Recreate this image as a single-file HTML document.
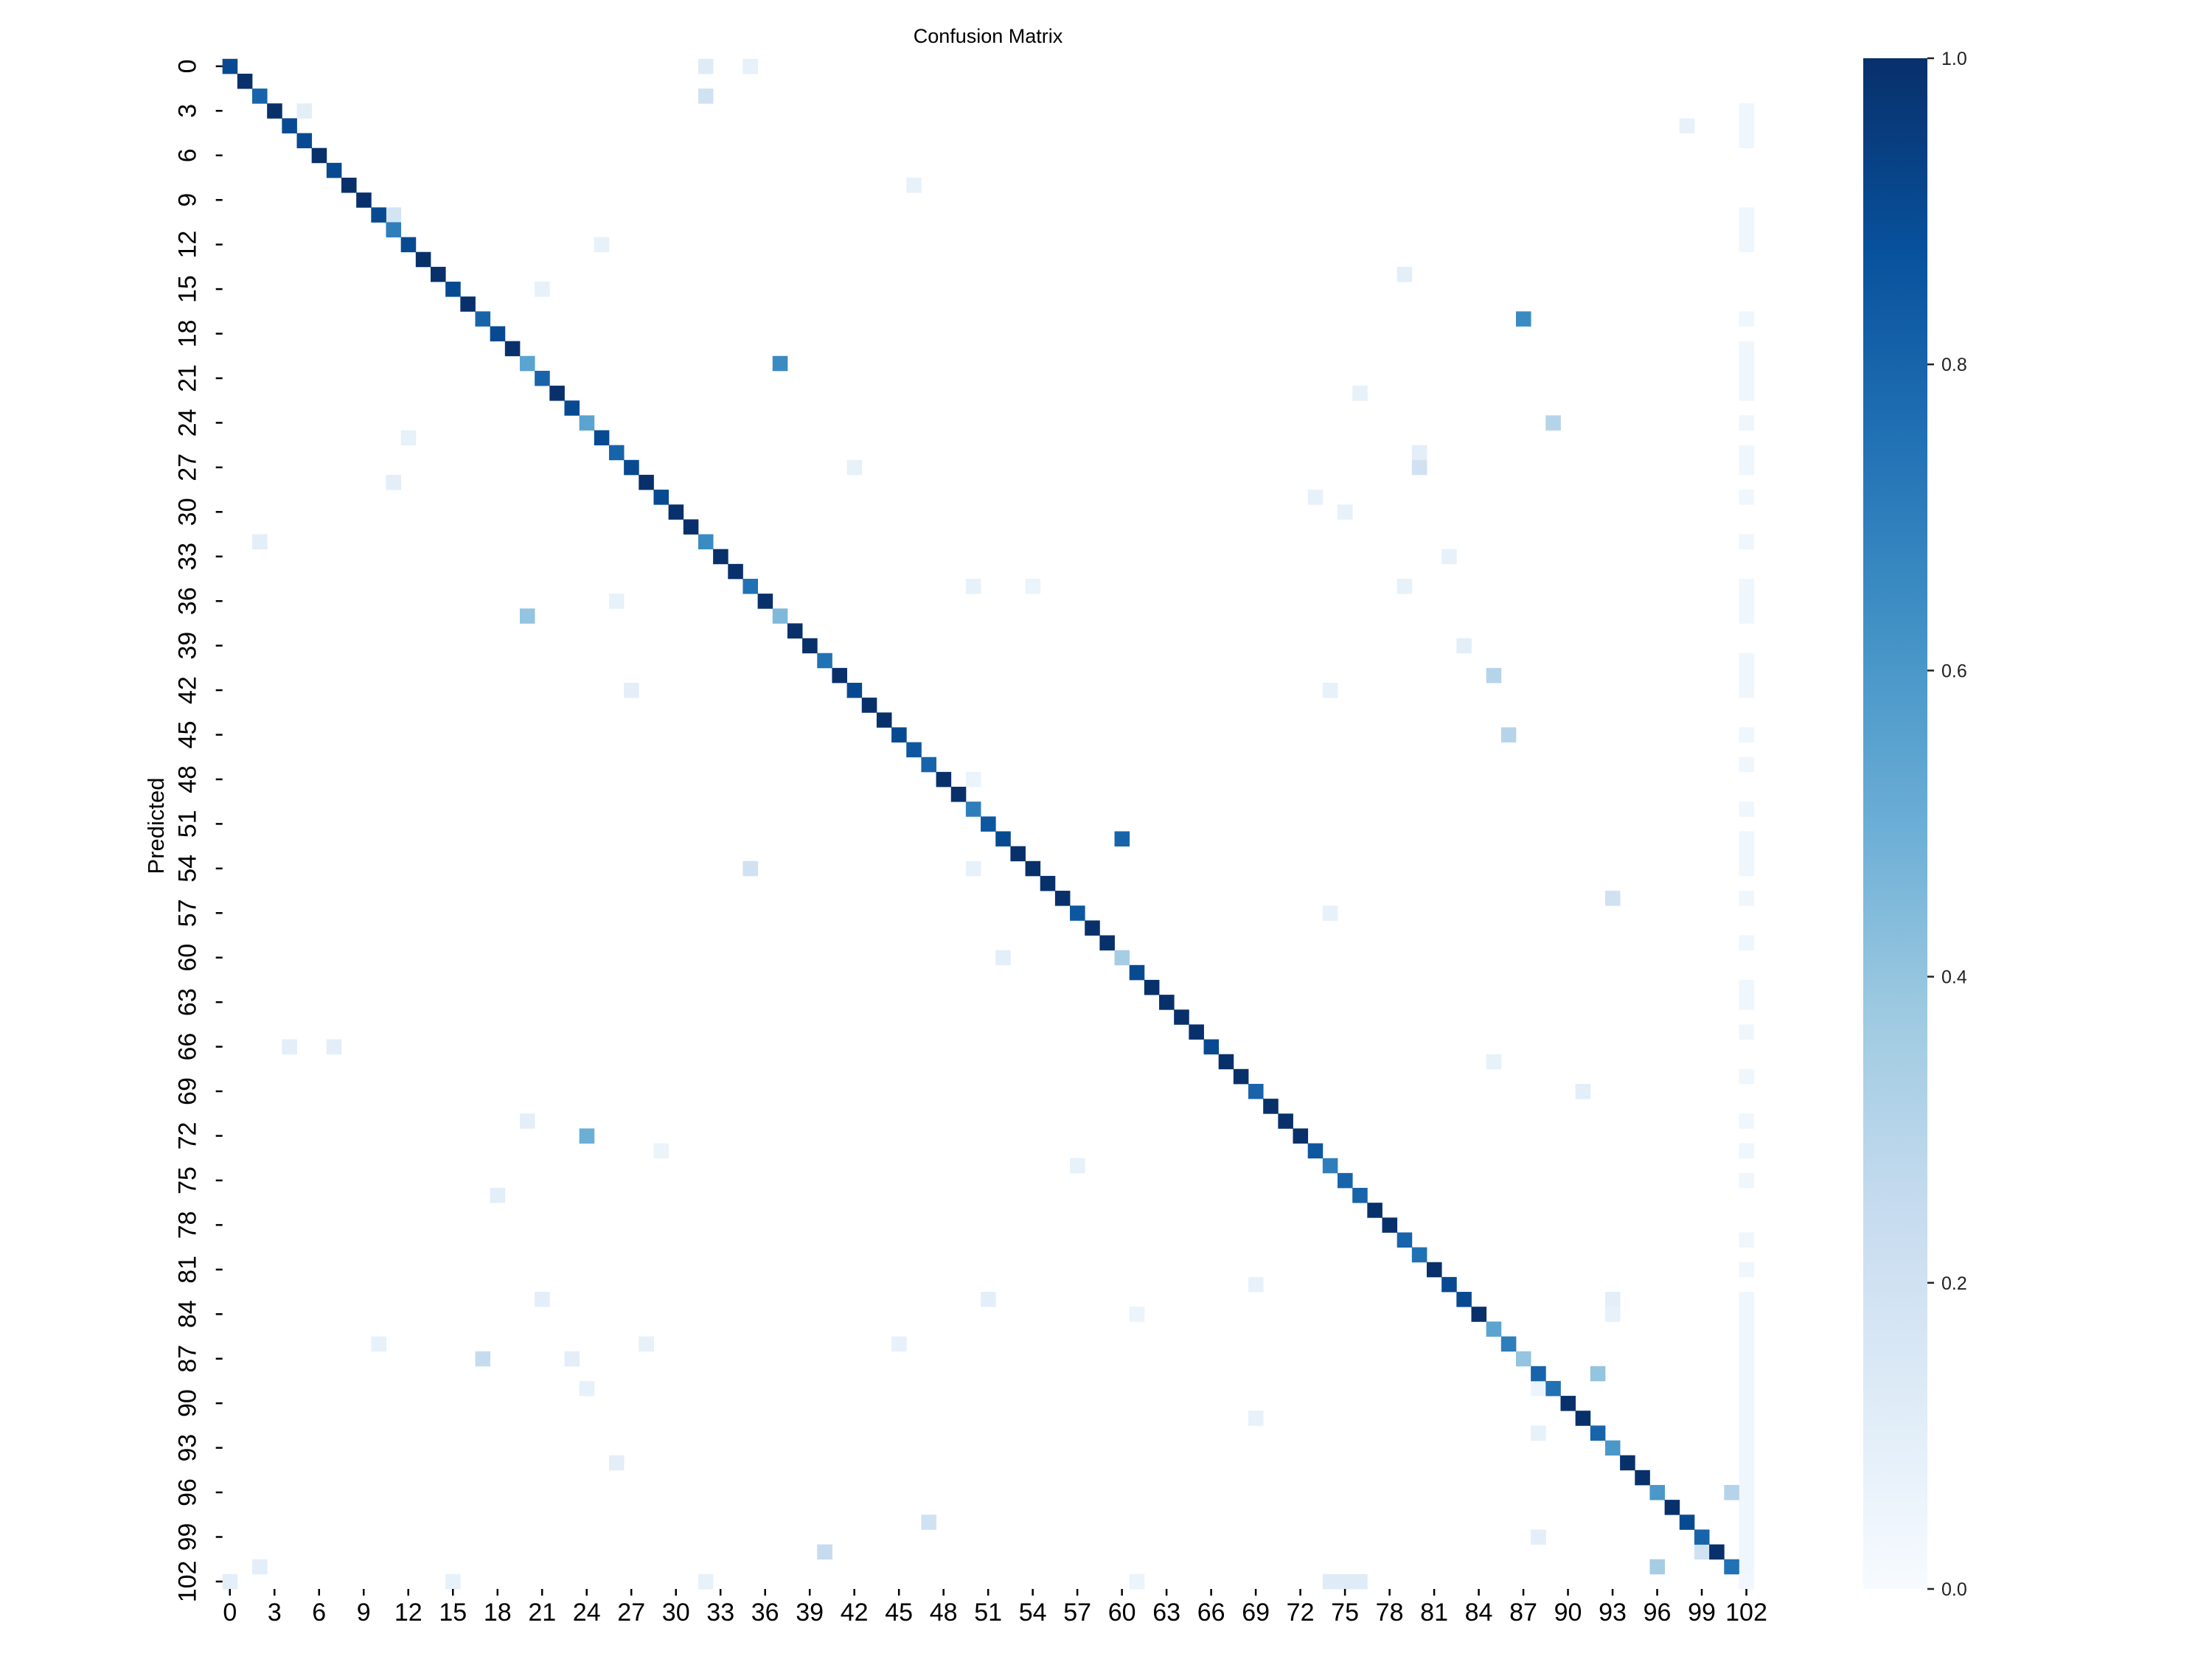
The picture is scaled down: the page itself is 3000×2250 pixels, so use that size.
<!DOCTYPE html>
<html><head><meta charset="utf-8"><style>
html,body{margin:0;padding:0;background:#fff;}
svg{display:block;font-family:"Liberation Sans",Arial,sans-serif;}
</style></head><body>
<svg id="chart" xmlns="http://www.w3.org/2000/svg" width="3000" height="2250" viewBox="0 0 3000 2250">
<defs>
<linearGradient id="blues" x1="0" y1="1" x2="0" y2="0">
<stop offset="0" stop-color="#f7fbff"/><stop offset="0.125" stop-color="#deebf7"/><stop offset="0.25" stop-color="#c6dbef"/><stop offset="0.375" stop-color="#9ecae1"/><stop offset="0.5" stop-color="#6baed6"/><stop offset="0.625" stop-color="#4292c6"/><stop offset="0.75" stop-color="#2171b5"/><stop offset="0.875" stop-color="#08519c"/><stop offset="1" stop-color="#08306b"/>
</linearGradient>
</defs>
<text x="1340" y="58" font-size="27" text-anchor="middle" fill="#000">Confusion Matrix</text>
<text transform="translate(222,1120) rotate(-90)" font-size="31" text-anchor="middle" fill="#000">Predicted</text>
<g id="cells"></g>
<g id="axes"></g>
<rect x="2527" y="79" width="87" height="2076" fill="url(#blues)"/>
<g id="cbar"></g>
</svg>
<script>
const N = 103;
const diagValues = [0.9,1,0.8,1,0.9,0.9,1,0.9,1,1,0.9,0.7,0.9,1,1,0.9,1,0.8,0.9,1,0.55,0.8,1,0.9,0.55,0.9,0.8,0.9,1,0.9,1,1,0.65,1,1,0.75,1,0.45,1,1,0.75,1,0.9,1,1,0.9,0.85,0.8,1,1,0.7,0.85,0.9,1,1,1,1,0.85,1,1,0.35,0.9,1,1,1,1,0.9,1,1,0.8,1,1,1,0.85,0.7,0.8,0.8,1,1,0.8,0.75,1,0.9,0.9,1,0.55,0.7,0.4,0.8,0.75,1,1,0.8,0.6,1,1,0.6,1,0.9,0.8,1,0.75,0.03];
const offRows = [0,0,2,3,4,8,10,12,14,15,17,20,22,24,25,26,27,27,28,29,30,32,33,35,35,35,36,37,39,41,42,42,45,48,52,54,54,56,57,60,66,66,67,69,71,72,73,74,76,82,83,83,83,84,84,86,86,86,87,87,88,89,89,91,92,94,96,98,99,100,100,101,101,102,102,102,102,102,102,102];
const offCols = [32,35,32,5,98,46,11,25,79,21,87,37,76,89,12,80,42,80,11,73,75,2,82,50,54,79,26,20,83,85,27,74,86,50,60,35,50,93,74,52,4,7,85,91,20,24,29,57,18,69,21,51,93,93,61,10,28,45,17,23,92,24,88,69,88,26,101,47,88,40,99,2,96,0,15,32,61,74,75,76];
const offValues = [0.12,0.08,0.2,0.1,0.08,0.08,0.18,0.08,0.1,0.08,0.65,0.65,0.08,0.3,0.08,0.1,0.08,0.2,0.1,0.08,0.08,0.1,0.08,0.08,0.06,0.08,0.08,0.4,0.1,0.3,0.1,0.08,0.3,0.06,0.8,0.2,0.08,0.2,0.08,0.1,0.1,0.1,0.08,0.1,0.1,0.5,0.06,0.08,0.1,0.08,0.1,0.1,0.1,0.08,0.06,0.08,0.08,0.08,0.25,0.1,0.4,0.08,0.05,0.08,0.08,0.1,0.3,0.2,0.1,0.25,0.2,0.1,0.35,0.1,0.08,0.08,0.06,0.12,0.12,0.12];
const lastColRows = [3,4,5,10,11,12,17,19,20,21,22,24,26,27,29,32,35,36,37,40,41,42,45,47,50,52,53,54,56,59,62,63,65,68,71,73,75,79,81,83,84,85,86,87,88,89,90,91,92,93,94,95,96,97,98,99,100,101];
const lastColValues = lastColRows.map(()=>0.04);
const cbarTicks = [0,0.2,0.4,0.6,0.8,1.0];

const L=301.7,R=2378.6,T=79.8,B=2155;
const cw=(R-L)/N, ch=(B-T)/N;
const xPos=c=>L+c*cw, yPos=r=>T+r*ch;
const stops=[[0,[247,251,255]],[0.125,[222,235,247]],[0.25,[198,219,239]],[0.375,[158,202,225]],[0.5,[107,174,214]],[0.625,[66,146,198]],[0.75,[33,113,181]],[0.875,[8,81,156]],[1,[8,48,107]]];
function blues(v){v=Math.max(0,Math.min(1,v));for(let i=1;i<stops.length;i++){if(v<=stops[i][0]){const a=stops[i-1],b=stops[i],t=(v-a[0])/(b[0]-a[0]);return 'rgb('+a[1].map((x,k)=>Math.round(x+(b[1][k]-x)*t)).join(',')+')';}}return 'rgb(8,48,107)';}
const NS='http://www.w3.org/2000/svg';
const cells=document.getElementById('cells');
function cell(r,c,v){const e=document.createElementNS(NS,'rect');


e.setAttribute('x',xPos(c).toFixed(2));e.setAttribute('y',yPos(r).toFixed(2));
e.setAttribute('width',(cw+0.4).toFixed(2));e.setAttribute('height',(ch+0.4).toFixed(2));
e.setAttribute('fill',blues(v));cells.appendChild(e);}
lastColRows.forEach((r,i)=>cell(r,N-1,lastColValues[i]));
offRows.forEach((r,i)=>cell(r,offCols[i],offValues[i]));
diagValues.forEach((v,i)=>cell(i,i,v));
const axes=document.getElementById('axes');
for(let i=0;i<N;i+=3){
 const cx=xPos(i)+cw/2, cy=yPos(i)+ch/2;
 let t=document.createElementNS(NS,'line');
 
 
 t.setAttribute('x1',L-9);t.setAttribute('x2',L);t.setAttribute('y1',cy);t.setAttribute('y2',cy);t.setAttribute('stroke','#000');t.setAttribute('stroke-width','2.5');axes.appendChild(t);
 let y=document.createElementNS(NS,'text');
 
 
 y.setAttribute('transform','translate('+(L-36)+','+cy+') rotate(-90)');y.setAttribute('text-anchor','middle');y.setAttribute('font-size','34');y.textContent=i;axes.appendChild(y);
 t=document.createElementNS(NS,'line');
 
 
 t.setAttribute('x1',cx);t.setAttribute('x2',cx);t.setAttribute('y1',B);t.setAttribute('y2',B+9);t.setAttribute('stroke','#000');t.setAttribute('stroke-width','2.5');axes.appendChild(t);
 let x=document.createElementNS(NS,'text');
 
 
 x.setAttribute('x',cx);x.setAttribute('y',B+43);x.setAttribute('text-anchor','middle');x.setAttribute('font-size','34');x.textContent=i;axes.appendChild(x);
}
const cb=document.getElementById('cbar');
cbarTicks.forEach(v=>{const y=2155-v*2076;
 let t=document.createElementNS(NS,'line');
 
 
 t.setAttribute('x1',2614);t.setAttribute('x2',2623);t.setAttribute('y1',y);t.setAttribute('y2',y);t.setAttribute('stroke','#222');t.setAttribute('stroke-width','2.5');cb.appendChild(t);
 let s=document.createElementNS(NS,'text');
 
 
 s.setAttribute('x',2633);s.setAttribute('y',y+9);s.setAttribute('font-size','25');s.setAttribute('fill','#222');s.textContent=v.toFixed(1);cb.appendChild(s);
});
</script>
</body></html>
